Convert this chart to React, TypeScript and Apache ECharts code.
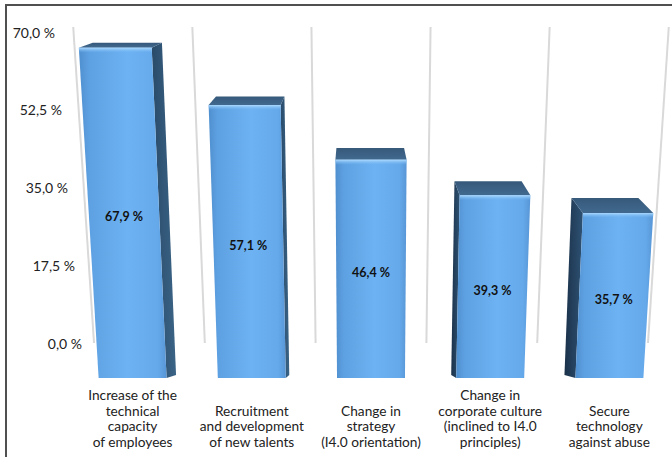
import React, { useEffect, useRef } from 'react';
import * as echarts from 'echarts';

// ---- data ----
const categories: string[] = [
  'Increase of the\ntechnical\ncapacity\nof employees',
  'Recruitment\nand development\nof new talents',
  'Change in\nstrategy\n(I4.0 orientation)',
  'Change in\ncorporate culture\n(inclined to I4.0\nprinciples)',
  'Secure\ntechnology\nagainst abuse',
];
const values: number[] = [67.9, 57.1, 46.4, 39.3, 35.7];
const AXIS_MIN = 0;
const AXIS_MAX = 70;
const AXIS_STEP = 17.5;

// ---- style / perspective constants ----
const FONT = 'Lato, "Open Sans", sans-serif';
const LABEL_SHIFT = [0, 7, 14, 20, 27]; // y-label right padding (perspective look)
const K = 0.00033; // vertical projective strength
const KH = 0.00022; // horizontal keystone
const T = 0.0606; // depth factor (vertical)
const TX = 0.05; // depth factor (horizontal)
const VP_Y = -34.5;
const VP_SHIFT_X = -15;
const BAR_FRAC = 0.57;
const TILT = 1.075;

const fmt = (v: number) => v.toFixed(1).replace('.', ',') + ' %';

export default function App() {
  const ref = useRef<HTMLDivElement>(null);
  useEffect(() => {
    if (!ref.current) return;
    const chart = echarts.init(ref.current, undefined, { renderer: 'svg' });
    const N = categories.length;
    const rich: any = {};
    LABEL_SHIFT.forEach((p, i) => {
      rich['p' + i] = { padding: [0, p, 0, 0], fontSize: 14, fontFamily: FONT, color: '#222' };
    });

    const option: any = {
      animation: false,
      backgroundColor: '#ffffff',
      textStyle: { fontFamily: FONT },
      graphic: [
        {
          type: 'rect',
          silent: true,
          shape: { x: 6, y: 5, width: 700, height: 500 },
          style: { fill: 'none', stroke: '#505050', lineWidth: 2 },
          z: 100,
        },
      ],
      grid: [
        { left: 94, right: 24, top: 32, bottom: 114 },
        { left: 73, right: 3, top: 71, bottom: 79 },
      ],
      xAxis: [
        {
          gridIndex: 0,
          type: 'category',
          data: categories,
          show: false,
        },
        {
          gridIndex: 1,
          type: 'category',
          data: categories,
          axisLine: { show: false },
          axisTick: { show: false },
          splitLine: { show: false },
          axisLabel: {
            interval: 0,
            margin: 71,
            verticalAlign: 'bottom',
            lineHeight: 15.5,
            fontSize: 13.7,
            fontFamily: FONT,
            color: '#222',
          },
        },
      ],
      yAxis: [
        {
          gridIndex: 0,
          type: 'value',
          min: AXIS_MIN,
          max: AXIS_MAX,
          interval: AXIS_STEP,
          axisLine: { show: false },
          axisTick: { show: false },
          splitLine: { show: false },
          axisLabel: {
            align: 'right',
            margin: 12,
            formatter: (v: number, i: number) => `{p${i}|${fmt(v)}}`,
            rich,
          },
        },
        {
          gridIndex: 1,
          type: 'value',
          min: AXIS_MIN,
          max: AXIS_MAX,
          show: false,
        },
      ],
      series: [
        {
          type: 'custom',
          xAxisIndex: 0,
          yAxisIndex: 0,
          z: 1,
          silent: true,
          data: categories.map((_, i) => [i, 0]),
          encode: { x: 0, y: 1 },
          renderItem: (params: any, api: any) => {
            const i = api.value(0) as number;
            const [cx, yTopV] = api.coord([i, AXIS_MAX]);
            const [, yBot] = api.coord([i, AXIS_MIN]);
            const band = api.size([1, 0])[0];
            const xFirst = api.coord([0, 0])[0];
            const xLast = api.coord([N - 1, 0])[0];
            const kx = (xFirst + xLast) / 2;
            const xs = [cx - band / 2];
            if (i === N - 1) xs.push(cx + band / 2);
            return {
              type: 'group',
              children: xs.map((b) => ({
                type: 'line',
                shape: { x1: kx + (b - kx) * TILT, y1: yTopV - 5, x2: b, y2: yBot },
                style: { stroke: '#d9d9d9', lineWidth: 2 },
              })),
            };
          },
        },
        {
          type: 'custom',
          xAxisIndex: 1,
          yAxisIndex: 1,
          z: 3,
          data: values.map((v, i) => [i, v]),
          encode: { x: 0, y: 1 },
          renderItem: (params: any, api: any) => {
            const i = api.value(0) as number;
            const v = api.value(1) as number;
            const [cx, yTop] = api.coord([i, v]);
            const [, y0] = api.coord([i, 0]);
            const band = api.size([1, 0])[0];
            const xFirst = api.coord([0, 0])[0];
            const xLast = api.coord([N - 1, 0])[0];
            const kx = (xFirst + xLast) / 2;
            const warp = (x: number, y: number): number[] => {
              const d = y0 - y;
              const dp = d / (1 - K * d);
              const f = 1 + KH * dp;
              return [kx + (x - kx) * f, y0 - dp];
            };
            const hw = (band * BAR_FRAC) / 2;
            const FLt = warp(cx - hw, yTop);
            const FRt = warp(cx + hw, yTop);
            const FRb = warp(cx + hw, y0);
            const FLb = warp(cx - hw, y0);
            const vpx = kx + VP_SHIFT_X;
            const back = (p: number[]) => [p[0] + (vpx - p[0]) * TX, p[1] + (VP_Y - p[1]) * T];
            const BLt = back(FLt);
            const BRt = back(FRt);
            const BLb = back(FLb);
            const BRb = back(FRb);
            const children: any[] = [];
            if (BRt[0] > FRt[0] + 0.3) {
              children.push({
                type: 'polygon',
                shape: { points: [FRt, BRt, [BRb[0], FRb[1] - 3], FRb] },
                style: {
                  fill: new echarts.graphic.LinearGradient(0, 0, 1, 0, [
                    { offset: 0, color: '#2a4b6a' },
                    { offset: 1, color: '#3b6486' },
                  ]),
                },
              });
            }
            if (BLt[0] < FLt[0] - 0.3) {
              children.push({
                type: 'polygon',
                shape: { points: [FLt, BLt, [BLb[0], FLb[1] - 3], FLb] },
                style: {
                  fill: new echarts.graphic.LinearGradient(0, 0, 1, 0, [
                    { offset: 0, color: '#1b3149' },
                    { offset: 1, color: '#2e5274' },
                  ]),
                },
              });
            }
            children.push({
              type: 'polygon',
              shape: { points: [FLt, FRt, BRt, BLt] },
              style: {
                fill: new echarts.graphic.LinearGradient(0, 0, 0, 1, [
                  { offset: 0, color: '#36597a' },
                  { offset: 1, color: '#41698f' },
                ]),
              },
            });
            children.push({
              type: 'polygon',
              shape: { points: [FLt, FRt, FRb, FLb] },
              style: {
                fill: new echarts.graphic.LinearGradient(0, 0, 1, 0, [
                  { offset: 0, color: '#4f8fcf' },
                  { offset: 0.12, color: '#5ea1e2' },
                  { offset: 0.55, color: '#6db2f2' },
                  { offset: 0.9, color: '#65a9ea' },
                  { offset: 1, color: '#5896d6' },
                ]),
              },
            });
            const hl = 5;
            children.push({
              type: 'polygon',
              shape: {
                points: [FLt, FRt, [FRt[0] + 0.1, FRt[1] + hl], [FLt[0] + 0.1, FLt[1] + hl]],
              },
              style: {
                fill: new echarts.graphic.LinearGradient(0, 0, 0, 1, [
                  { offset: 0, color: 'rgba(175,220,255,0.95)' },
                  { offset: 1, color: 'rgba(120,185,245,0)' },
                ]),
              },
            });
            const tx = (FLt[0] + FRt[0] + FLb[0] + FRb[0]) / 4;
            const ty = (FLt[1] + FLb[1]) / 2 + 4;
            children.push({
              type: 'text',
              x: tx,
              y: ty,
              style: {
                text: fmt(v),
                align: 'center',
                verticalAlign: 'middle',
                fontSize: 12.5,
                fontWeight: 'bold',
                fontFamily: FONT,
                fill: '#111',
              },
            });
            return { type: 'group', children };
          },
        },
      ],
    };
    chart.setOption(option);
    return () => chart.dispose();
  }, []);
  return (
    <div
      ref={ref}
      style={{ position: 'fixed', left: 0, top: 0, width: 672, height: 457, background: '#fff' }}
    />
  );
}
